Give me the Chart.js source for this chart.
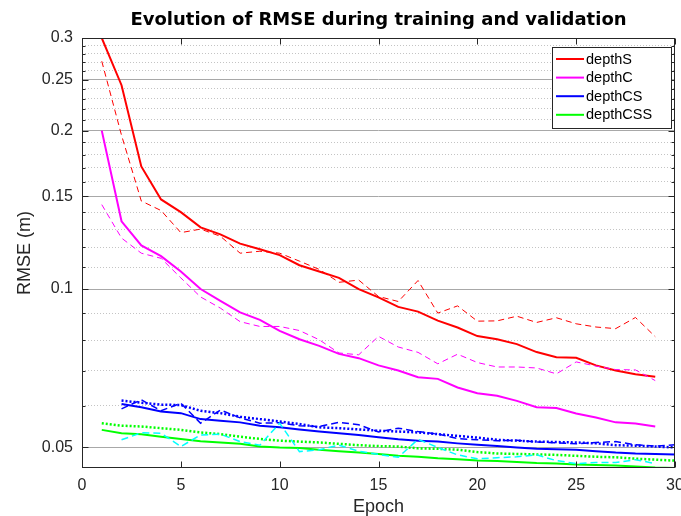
<!DOCTYPE html>
<html>
<head>
<meta charset="utf-8">
<script src="https://cdn.jsdelivr.net/npm/chart.js@4/dist/chart.umd.min.js"></script>
<style>
html,body{margin:0;padding:0;background:#fff;}
#wrap{width:681px;height:516px;position:relative;}
</style>
</head>
<body>
<div id="wrap"><canvas id="rmseChart"></canvas></div>
<script>
// ===================== DATA =====================
const epochs=[1,2,3,4,5,6,7,8,9,10,11,12,13,14,15,16,17,18,19,20,21,22,23,24,25,26,27,28,29,30];

// depthS / depthC : epochs 1..29
const depthS_train=[0.300,0.244,0.171,0.148,0.140,0.131,0.127,0.122,0.119,0.116,0.111,0.108,0.105,0.100,0.0964,0.0925,0.0906,0.0871,0.0845,0.0814,0.0803,0.0786,0.0759,0.0742,0.0740,0.0716,0.0700,0.0689,0.0681];
const depthS_val=[0.271,0.196,0.147,0.141,0.128,0.130,0.126,0.117,0.118,0.117,0.113,0.109,0.103,0.104,0.0968,0.0947,0.1038,0.0900,0.0929,0.0869,0.0870,0.0888,0.0864,0.0882,0.0859,0.0847,0.0841,0.0883,0.0812];
const depthC_train=[0.200,0.1345,0.121,0.1155,0.108,0.100,0.095,0.0903,0.0874,0.0833,0.0803,0.0780,0.0753,0.0739,0.0716,0.0700,0.0680,0.0675,0.0650,0.0634,0.0627,0.0613,0.0596,0.0594,0.0580,0.0570,0.0558,0.0555,0.0548];
const depthC_val=[0.1447,0.125,0.117,0.1144,0.105,0.0966,0.092,0.0867,0.0849,0.0849,0.0834,0.0801,0.0756,0.0750,0.0813,0.0776,0.0758,0.0721,0.0752,0.0725,0.0711,0.0711,0.0708,0.0690,0.0727,0.0714,0.0703,0.0702,0.0670];

// depthCS : epochs 2..30
const depthCS_train=[0.0605,0.0596,0.0585,0.0581,0.0566,0.0562,0.0558,0.0550,0.0546,0.0541,0.0536,0.0532,0.0528,0.0523,0.0518,0.0515,0.0513,0.0509,0.0506,0.0503,0.0500,0.0497,0.0496,0.0495,0.0492,0.0489,0.0487,0.0486,0.0485];
const depthCS_val=[0.0592,0.0616,0.0587,0.0607,0.0556,0.0589,0.0569,0.0556,0.0557,0.0550,0.0548,0.0558,0.0552,0.0535,0.0544,0.0536,0.0530,0.0520,0.0517,0.0515,0.0516,0.0512,0.0510,0.0508,0.0511,0.0513,0.0506,0.0503,0.0506];
const depthCS_dot=[0.0614,0.0608,0.0603,0.0602,0.0587,0.0581,0.0572,0.0566,0.0560,0.0554,0.0546,0.0544,0.0541,0.0538,0.0536,0.0534,0.0530,0.0526,0.0522,0.0517,0.0515,0.0513,0.0512,0.0511,0.0509,0.0505,0.0504,0.0502,0.0500];

// depthCSS : train/dot epochs 1..30, val epochs 2..29
const depthCSS_train=[0.0540,0.0532,0.0530,0.0524,0.0519,0.0514,0.0511,0.0508,0.0502,0.0500,0.0499,0.0495,0.0492,0.0489,0.0486,0.0482,0.0480,0.0477,0.0475,0.0472,0.0471,0.0469,0.0467,0.0466,0.0464,0.0463,0.0462,0.0460,0.0458,0.0457];
const depthCSS_dot=[0.0556,0.0550,0.0548,0.0544,0.0540,0.0534,0.0530,0.0524,0.0519,0.0515,0.0513,0.0511,0.0508,0.0505,0.0503,0.0502,0.0498,0.0497,0.0495,0.0490,0.0487,0.0486,0.0485,0.0484,0.0482,0.0480,0.0479,0.0476,0.0474,0.0472];
const depthCSS_val=[0.0517,0.0533,0.0532,0.0502,0.0528,0.0530,0.0513,0.0505,0.0556,0.0491,0.0495,0.0505,0.0492,0.0485,0.0479,0.0518,0.0500,0.0484,0.0476,0.0478,0.0480,0.0484,0.0472,0.0466,0.0468,0.0468,0.0474,0.0466];

const yTicks=[0.05,0.06,0.07,0.08,0.09,0.1,0.11,0.12,0.13,0.14,0.15,0.16,0.17,0.18,0.19,0.2,0.21,0.22,0.23,0.24,0.25,0.26,0.27,0.28,0.29,0.3];
const yMajor=[0.05,0.1,0.15,0.2,0.25,0.3];
const xTicks=[0,5,10,15,20,25,30];
const legendNames=['depthS','depthC','depthCS','depthCSS'];
const legendColors=['#ff0000','#ff00ff','#0000ff','#00ff00'];

// ===================== HELPERS =====================
const FONT='"Liberation Sans", Arial, sans-serif';
const AXC='#262626';
function pts(arr,startEpoch){return arr.map((v,i)=>({x:epochs[startEpoch-1+i],y:v}));}
function isMajor(v){return yMajor.some(m=>Math.abs(m-v)<1e-6);}
function line(label,data,color,w,dash){
  return {label,data,borderColor:color,backgroundColor:color,borderWidth:w,borderDash:dash||[],
    pointRadius:0,tension:0,fill:false};
}

const datasets=[
  line('depthCSS val',pts(depthCSS_val,2),'#00ffff',1.5,[7,4]),
  line('depthCSS dot',pts(depthCSS_dot,1),'#00ff00',2.5,[2,2]),
  line('depthCSS',pts(depthCSS_train,1),'#00ff00',2),
  line('depthCS val',pts(depthCS_val,2),'#0000ff',1.5,[7,4]),
  line('depthCS dot',pts(depthCS_dot,2),'#0000ff',2.5,[2,2]),
  line('depthCS',pts(depthCS_train,2),'#0000ff',2),
  line('depthC val',pts(depthC_val,1),'#ff00ff',1,[6,4]),
  line('depthC',pts(depthC_train,1),'#ff00ff',2),
  line('depthS val',pts(depthS_val,1),'#ff0000',1,[6,4]),
  line('depthS',pts(depthS_train,1),'#ff0000',2),
];

// ===================== FRAME / TITLE / LEGEND =====================
const framePlugin={
  id:'frame',
  beforeDraw(chart){
    const c=chart.ctx;c.save();c.fillStyle='#fff';c.fillRect(0,0,chart.width,chart.height);c.restore();
  },
  afterDraw(chart){
    const c=chart.ctx,a=chart.chartArea,xs=chart.scales.x,ys=chart.scales.y;
    c.save();
    c.strokeStyle=AXC;c.lineWidth=1;c.setLineDash([]);
    const L=Math.round(a.left)+0.5,R=Math.round(a.right)-0.5,T=Math.round(a.top)+0.5,B=Math.round(a.bottom)-0.5;
    c.strokeRect(L,T,R-L,B-T);
    c.beginPath();
    xTicks.forEach(v=>{
      const px=Math.round(xs.getPixelForValue(v))+0.5;
      c.moveTo(px,B);c.lineTo(px,B-6);
      c.moveTo(px,T);c.lineTo(px,T+6);
    });
    yTicks.forEach(v=>{
      const py=Math.round(ys.getPixelForValue(v))+0.5;
      const len=isMajor(v)?6:3;
      c.moveTo(L,py);c.lineTo(L+len,py);
      c.moveTo(R,py);c.lineTo(R-len,py);
    });
    c.stroke();

    // title
    c.fillStyle='#000';c.font='bold 18px "DejaVu Sans", sans-serif';c.textAlign='center';c.textBaseline='middle';
    c.fillText('Evolution of RMSE during training and validation',(a.left+a.right)/2,20);

    // legend
    const bx=552.5,by=47.5,bw=119,bh=81;
    c.fillStyle='#fff';c.fillRect(bx,by,bw,bh);
    c.strokeStyle=AXC;c.strokeRect(bx,by,bw,bh);
    c.font='14.5px '+FONT;c.textAlign='left';c.textBaseline='middle';
    legendNames.forEach((n,i)=>{
      const y=59+i*18.6;
      c.strokeStyle=legendColors[i];c.lineWidth=2;
      c.beginPath();c.moveTo(556,y);c.lineTo(584,y);c.stroke();
      c.fillStyle='#000';c.fillText(n,586,y+0.5);
    });
    c.restore();
  }
};

// ===================== CHART =====================
new Chart(document.getElementById('rmseChart').getContext('2d'),{
  type:'line',
  data:{datasets},
  options:{
    responsive:true,maintainAspectRatio:false,animation:false,devicePixelRatio:1,
    layout:{padding:{top:38,right:6,bottom:0,left:0}},
    plugins:{legend:{display:false},tooltip:{enabled:false},title:{display:false}},
    scales:{
      x:{type:'linear',min:0,max:30,
        afterBuildTicks:s=>{s.ticks=xTicks.map(v=>({value:v}));},
        afterFit:s=>{s.height=48;s.paddingLeft=0;s.paddingRight=0;},
        grid:{display:false,drawTicks:false},border:{display:false},
        ticks:{color:AXC,font:{family:FONT,size:16},padding:8,maxRotation:0,autoSkip:false},
        title:{display:true,text:'Epoch',color:AXC,font:{family:FONT,size:18,lineHeight:1},padding:{top:0,bottom:0}}},
      y:{type:'logarithmic',min:0.0457,max:0.3,
        afterBuildTicks:s=>{s.ticks=yTicks.map(v=>({value:v}));},
        afterFit:s=>{s.width=82;s.paddingTop=0;s.paddingBottom=0;},
        grid:{drawTicks:false,lineWidth:1,color:c=>(c.tick&&isMajor(c.tick.value))?'#a8a8a8':'#c4c4c4'},
        border:{display:false,dash:c=>(c.tick&&!isMajor(c.tick.value))?[1,2]:[]},
        ticks:{color:AXC,font:{family:FONT,size:16},padding:9,autoSkip:false,
          callback:v=>isMajor(v)?String(+v.toFixed(2)):''},
        title:{display:true,text:'RMSE (m)',color:AXC,font:{family:FONT,size:18,lineHeight:1},padding:{top:16,bottom:0}}}
    }
  },
  plugins:[framePlugin]
});
</script>
</body>
</html>
